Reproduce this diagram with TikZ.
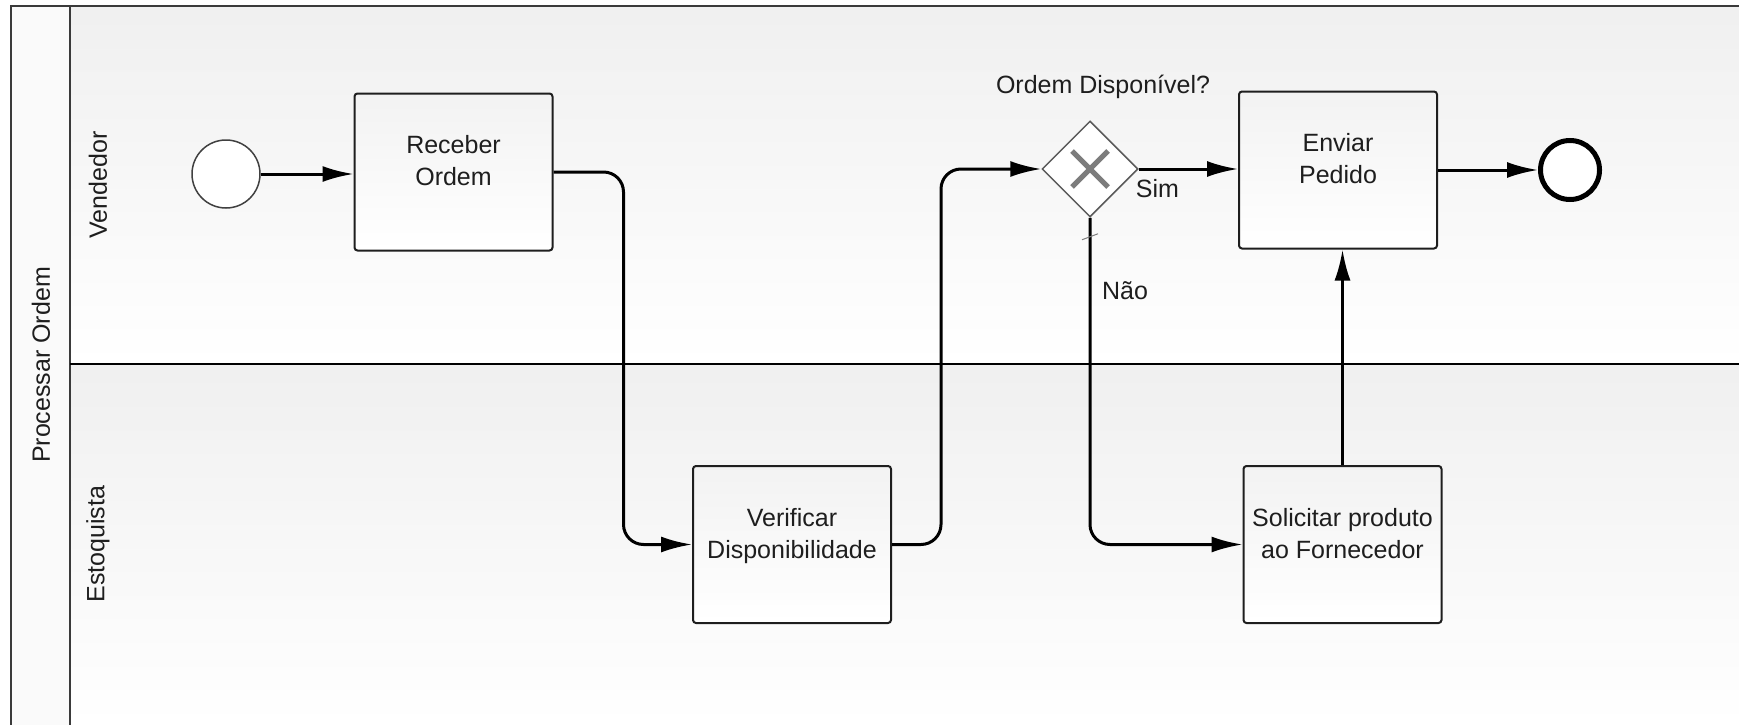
\documentclass[tikz,border=0pt]{standalone}
\usepackage{fontspec}
\setmainfont{Liberation Sans}
\usetikzlibrary{arrows.meta,shapes.geometric,calc}
\definecolor{ink}{HTML}{1E1E1E}
\definecolor{poolline}{HTML}{3A3A3A}
\definecolor{gwline}{HTML}{5A5A5A}
\definecolor{gwmark}{HTML}{7C7C7C}
\begin{document}
\begin{tikzpicture}[x=1pt,y=-1pt,
  font=\fontsize{25}{32}\selectfont,
  task/.style={draw=ink, line width=2pt, rounded corners=3pt,
    top color=black!5, bottom color=white,
    minimum width=198pt, minimum height=157pt, inner sep=0pt},
  tasktext/.style={align=center, text=ink, inner sep=0pt, anchor=base},
  lanetext/.style={rotate=90, text=ink, inner sep=0pt},
  flowlabel/.style={text=ink, inner sep=0pt, anchor=base},
  flow/.style={draw=black, line width=3pt, rounded corners=20pt,
    -{Latex[length=31pt,width=16pt]}},
  startev/.style={circle, draw=black!75, line width=1.5pt, fill=white,
    minimum size=68pt, inner sep=0pt},
  endev/.style={circle, draw=black, line width=5pt, fill=white,
    minimum size=59pt, inner sep=0pt},
  xorgw/.style={diamond, draw=gwline, line width=1.5pt, fill=white,
    minimum width=96pt, minimum height=96pt, inner sep=0pt}
]
\useasboundingbox (0,0) rectangle (1739,725);

% pool and lanes
\fill[top color=black!6, bottom color=white] (70,6) rectangle (1739,364);
\fill[top color=black!6, bottom color=white] (70,364) rectangle (1739,725);
\fill[black!2] (11,6) rectangle (70,725);
\draw[poolline, line width=2pt] (1739,6) -- (11,6) -- (11,725);
\draw[poolline, line width=2pt] (70,6) -- (70,725);
\draw[black, line width=1.5pt] (70,364) -- (1739,364);

\node[lanetext] (pool) at (41,365) {Processar Ordem};
\node[lanetext] (laneA) at (98,185) {Vendedor};
\node[lanetext] (laneB) at (98,544) {Estoquista};

% events, tasks, gateway
\node[startev] (start) at (226,174) {};
\node[task] (recv) at (453.5,172) {};
\node[task] (verif) at (792,544.5) {};
\node[xorgw] (gw) at (1090,169) {};
\node[task] (send) at (1338,170) {};
\node[task] (sol) at (1342.5,544.5) {};
\node[endev] (end) at (1570,170) {};

% task captions: base anchor sits on the second line
\node[tasktext] (recvT) at ($(recv.north)+(0,93)$) {Receber\\Ordem};
\node[tasktext] (verifT) at ($(verif.north)+(0,93)$) {Verificar\\Disponibilidade};
\node[tasktext] (sendT) at ($(send.north)+(0,93)$) {Enviar\\Pedido};
\node[tasktext] (solT) at ($(sol.north)+(0,93)$) {Solicitar produto\\ao Fornecedor};

% exclusive gateway marker
\draw[gwmark, line width=5pt] ($(gw.center)+(-18,-18)$) -- ($(gw.center)+(18,18)$)
  ($(gw.center)+(18,-18)$) -- ($(gw.center)+(-18,18)$);

\node[flowlabel] (gwT) at (1103,93) {Ordem Disponível?};

% sequence flows
\draw[flow] (start.east) -- (start.east -| recv.west);
\draw[flow] (recv.east) -- ++(70,0) |- (verif.west);
\draw[flow] (verif.east) -- ++(49,0) |- (gw.west);
\draw[flow] (gw.east) -- (gw.east -| send.west);
\draw[flow] (gw.south) |- (sol.west);
\draw[flow] (sol.north) -- (sol.north |- send.south);
\draw[flow] (send.east) -- (end.west);

% default-flow tick
\draw[gwmark, line width=1pt] ($(gw.south)+(-8,22)$) -- ++(16,-6);

\node[flowlabel] (simT) at (1157.5,197) {Sim};
\node[flowlabel] (naoT) at (1125,299) {Não};
\end{tikzpicture}
\end{document}
